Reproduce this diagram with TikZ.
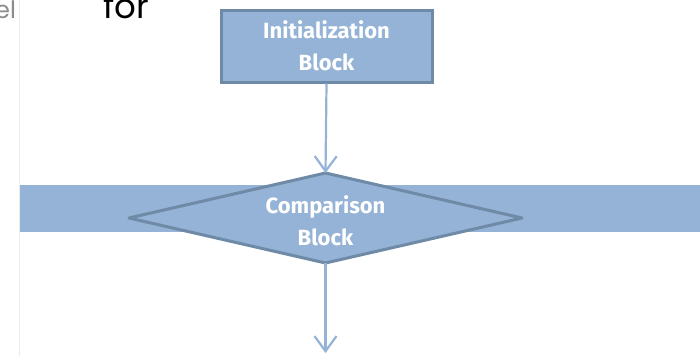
\documentclass[tikz,border=0pt]{standalone}
\usepackage{fontspec}
\setmainfont{Fira Sans}
\newfontfamily\headfont{Poppins}
\usetikzlibrary{shapes.geometric,arrows.meta}
\definecolor{boxfill}{HTML}{95B3D7}
\definecolor{boxline}{HTML}{6E8AA6}
\definecolor{flowline}{HTML}{95B3D7}
\begin{document}
\begin{tikzpicture}[x=1pt,y=-1pt,
  blocktext/.style={text=white,font=\bfseries\fontsize{22}{32}\selectfont,align=center},
  flow/.style={draw=flowline,line width=2.2pt,-{Straight Barb[length=15pt,width=22pt,line width=2.2pt]}}]
\useasboundingbox (0,0) rectangle (700,356);
\fill[white] (0,0) rectangle (700,356);
% page edge and clipped heading text
\draw[color=black!8,line width=1.5pt] (19.5,0) -- (19.5,356);
\begin{scope}
\clip (0,0) rectangle (700,356);
\node[anchor=base west,inner sep=0,text=black!45,font=\headfont\fontsize{24}{24}\selectfont] (hl) at (-5,18) {el};
\node[anchor=base west,inner sep=0,text=black,font=\headfont\fontsize{34}{34}\selectfont] (hf) at (103,18) {for};
\end{scope}
% horizontal band
\fill[boxfill] (20,185) rectangle (700,232);
% initialization block
\node[draw=boxline,fill=boxfill,line width=3pt,minimum width=211pt,minimum height=72pt,inner sep=0,anchor=north west] (init) at (219.5,8.5) {};
\node[blocktext] (initt) at (init.center) {Initialization\\Block};
% comparison diamond
\fill[boxfill,draw=boxline,line width=3pt,line join=round] (129,218) -- (325.5,173) -- (522,218) -- (325.5,263) -- cycle;
\coordinate (dtop) at (325.5,173);
\coordinate (dbot) at (325.5,263);
\node[blocktext] (cmpt) at (325.5,221) {Comparison\\Block};
% connectors
\coordinate (end) at (325.5,353);
\draw[flow] (init.south) -- (dtop);
\draw[flow] (dbot) -- (end);
\end{tikzpicture}
\end{document}
